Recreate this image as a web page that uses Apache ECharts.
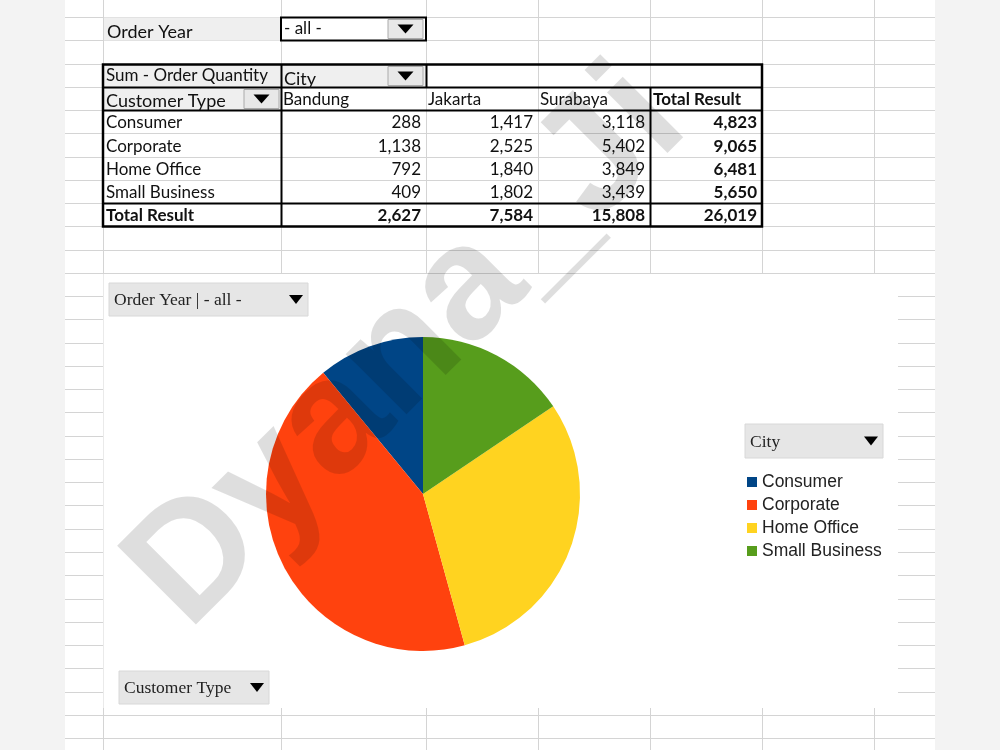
<!DOCTYPE html>
<html style="height: 100%">
<head>
    <meta charset="utf-8">
    <title>Pivot chart</title>
    <script src="https://cdn.jsdelivr.net/npm/echarts@6/dist/echarts.min.js"></script>
</head>
<body style="height: 100%; margin: 0">
<div id="main" style="width: 1000px; height: 750px"></div>
<script type="text/javascript">
    // pivot table data (Sum - Order Quantity)
    var customerTypes = ['Consumer', 'Corporate', 'Home Office', 'Small Business'];
    var cities = ['Bandung', 'Jakarta', 'Surabaya'];
    var bandung = [288, 1138, 792, 409];
    var jakarta = [1417, 2525, 1840, 1802];
    var surabaya = [3118, 5402, 3849, 3439];
    var cityValues = [bandung, jakarta, surabaya];
    var sliceColors = ['#004586', '#ff420e', '#ffd320', '#579d1c'];

    // sheet geometry
    var colX = [103, 281, 426, 538, 650, 762, 874];
    var rowH = 23.26;
    function R(k) { return Math.round(17 + rowH * k) + 0.5; }

    var cellFont = 'Lato, "Open Sans", sans-serif';
    var serifFont = '"Liberation Serif", "DejaVu Serif", serif';
    var F = '17px ';
    var FB = 'bold 17px ';

    function fmt(n) { return n.toLocaleString('en-US'); }
    function sum(a) { return a.reduce(function (s, v) { return s + v; }, 0); }

    var g = [];
    function rect(x, y, w, h, style, z) {
        g.push({ type: 'rect', shape: { x: x, y: y, width: w, height: h }, style: style, z: z || 1, silent: true });
    }
    function line(x1, y1, x2, y2, color, width, z) {
        g.push({ type: 'line', shape: { x1: x1, y1: y1, x2: x2, y2: y2 },
            style: { stroke: color, lineWidth: width || 1 }, z: z || 1, silent: true });
    }
    function text(x, y, str, opts, z) {
        g.push({ type: 'text', x: x, y: y, z: z || 5, silent: true,
            style: Object.assign({ text: str, font: F + cellFont, fill: '#111',
                textAlign: 'left', textVerticalAlign: 'middle' }, opts || {}) });
    }
    function triangle(cx, cy, hw, hh, z) {
        g.push({ type: 'polygon', z: z, silent: true,
            shape: { points: [[cx - hw, cy - hh], [cx + hw, cy - hh], [cx, cy + hh]] },
            style: { fill: '#000' } });
    }
    function dropButton(x, y, w, h, z) {
        rect(x, y, w, h, { fill: '#e8e8e8', stroke: '#aaa', lineWidth: 1 }, z);
        triangle(x + w / 2, y + h / 2, 8, 4.5, z + 1);
    }

    // page + sheet
    rect(0, 0, 1000, 750, { fill: '#f3f3f3' }, 0);
    rect(65, 0, 870, 750, { fill: '#ffffff' }, 0);
    for (var k = 0; k < 32; k++) line(65, R(k), 935, R(k), '#d4d4d4', 1, 1);
    colX.forEach(function (x) { line(x + 0.5, 0, x + 0.5, 750, '#d4d4d4', 1, 1); });

    // chart area covers the grid
    rect(103.5, 274, 794.5, 434, { fill: '#ffffff' }, 2);

    // page field: Order Year
    rect(104, R(0), 177, R(1) - R(0), { fill: '#efefef' }, 2);
    text(107, (R(0) + R(1)) / 2 + 3, 'Order Year', { font: '18px ' + cellFont });
    rect(281, R(0), 145, R(1) - R(0), { fill: '#fff', stroke: '#000', lineWidth: 2 }, 3);
    text(284, (R(0) + R(1)) / 2, '- all -');
    dropButton(388, R(0) + 2, 35, R(1) - R(0) - 4, 4);

    // pivot table
    rect(104, R(2), 177, R(3) - R(2), { fill: '#efefef' }, 2);
    rect(282, R(2), 144, R(3) - R(2), { fill: '#efefef' }, 2);
    rect(104, R(3), 177, R(4) - R(3), { fill: '#efefef' }, 2);
    dropButton(388, R(2) + 2, 35, R(3) - R(2) - 4, 4);
    dropButton(244, R(3) + 2, 35, R(4) - R(3) - 4, 4);
    rect(103, R(2), 659, R(9) - R(2), { fill: 'none', stroke: '#000', lineWidth: 2.5 }, 3);
    [3, 4, 8].forEach(function (k) { line(103, R(k), 762, R(k), '#000', 2, 3); });
    line(281.5, R(2), 281.5, R(9), '#000', 2, 3);
    line(426.5, R(2), 426.5, R(3), '#000', 2, 3);
    line(650.5, R(3), 650.5, R(9), '#000', 2, 3);

    text(106, (R(2) + R(3)) / 2, 'Sum - Order Quantity');
    text(284, (R(2) + R(3)) / 2 + 3, 'City', { font: '18px ' + cellFont });
    text(106, (R(3) + R(4)) / 2 + 2, 'Customer Type', { font: '18px ' + cellFont });
    cities.forEach(function (c, i) {
        text(colX[i + 1] + 2, (R(3) + R(4)) / 2 + 1, c);
    });
    text(653, (R(3) + R(4)) / 2 + 1, 'Total Result', { font: FB + cellFont });

    customerTypes.forEach(function (t, r) {
        var cy = (R(4 + r) + R(5 + r)) / 2 + 1;
        text(106, cy, t);
        var rowTotal = 0;
        cityValues.forEach(function (vals, c) {
            text(colX[c + 2] - 5, cy, fmt(vals[r]), { textAlign: 'right' });
            rowTotal += vals[r];
        });
        text(colX[5] - 5, cy, fmt(rowTotal), { textAlign: 'right', font: FB + cellFont });
    });
    var ty = (R(8) + R(9)) / 2 + 1;
    text(106, ty, 'Total Result', { font: FB + cellFont });
    var grand = 0;
    cityValues.forEach(function (vals, c) {
        grand += sum(vals);
        text(colX[c + 2] - 5, ty, fmt(sum(vals)), { textAlign: 'right', font: FB + cellFont });
    });
    text(colX[5] - 5, ty, fmt(grand), { textAlign: 'right', font: FB + cellFont });

    // pivot chart field buttons
    function fieldButton(x, y, w, h, label) {
        rect(x, y, w, h, { fill: '#e6e6e6', stroke: '#d8d8d8', lineWidth: 1 }, 3);
        text(x + 5, y + h / 2 + 1, label, { font: '17.5px ' + serifFont, fill: '#222' }, 4);
        triangle(x + w - 12, y + h / 2, 7, 4.5, 4);
    }
    fieldButton(109, 283, 199, 33, 'Order Year | - all -');
    fieldButton(745, 424, 138, 34, 'City');
    fieldButton(119, 671, 150, 33, 'Customer Type');

    // watermark
    g.push({ type: 'text', x: 214, y: 658, rotation: Math.PI / 4, z: 50, silent: true,
        style: { text: 'Dyana_Ji', font: 'bold 162px "Liberation Sans", Arial, sans-serif',
            fill: 'rgba(0,0,0,0.13)', textAlign: 'left', textVerticalAlign: 'bottom' } });

    var myChart = echarts.init(document.getElementById('main'));
    var option = {
        animation: false,
        color: sliceColors,
        graphic: { elements: g },
        legend: {
            data: customerTypes,
            orient: 'vertical',
            left: 742,
            top: 468,
            icon: 'rect',
            itemWidth: 10,
            itemHeight: 10,
            itemGap: 5,
            textStyle: { fontFamily: '"Liberation Sans", Arial, sans-serif', fontSize: 17.5, color: '#222' }
        },
        series: [{
            name: cities[0],
            type: 'pie',
            z: 10,
            center: [423, 494],
            radius: 157,
            startAngle: 90,
            clockwise: false,
            label: { show: false },
            labelLine: { show: false },
            emphasis: { disabled: true },
            itemStyle: { borderWidth: 0 },
            data: customerTypes.map(function (t, i) { return { name: t, value: bandung[i] }; })
        }]
    };
    myChart.setOption(option);
</script>
</body>
</html>
